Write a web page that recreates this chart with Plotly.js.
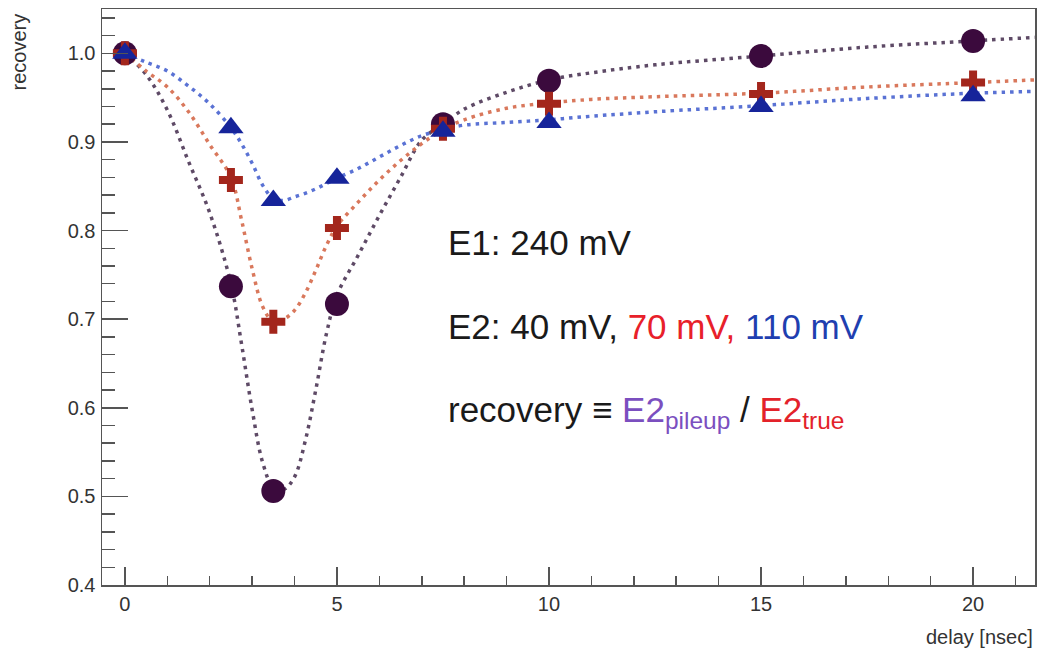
<!DOCTYPE html>
<html>
<head>
<meta charset="utf-8">
<script src="https://cdn.plot.ly/plotly-3.0.1.min.js"></script>
<style>
  html, body { margin: 0; padding: 0; background: #ffffff; }
  #chart { width: 1037px; height: 654px; }
</style>
</head>
<body>
<div id="chart"></div>
<script>
// Measured points
const delays = [0, 2.5, 3.5, 5, 7.5, 10, 15, 20];
const rec40  = [1.000, 0.737, 0.506, 0.717, 0.920, 0.969, 0.997, 1.014];
const rec70  = [1.000, 0.857, 0.697, 0.803, 0.915, 0.943, 0.954, 0.967];
const rec110 = [1.000, 0.916, 0.834, 0.859, 0.912, 0.922, 0.940, 0.952];

// Fitted (dotted) curves
const curveX   = [0, 0.5, 1, 1.5, 2, 2.5, 2.75, 3, 3.25, 3.5, 3.75, 4, 4.25, 4.5, 4.75, 5, 5.5, 6, 6.5, 7, 7.5, 8, 9, 10, 11, 12.5, 15, 17.5, 20, 21.46];
const curve40  = [1.000, 0.976, 0.936, 0.878, 0.820, 0.740, 0.672, 0.598, 0.538, 0.510, 0.508, 0.522, 0.562, 0.620, 0.683, 0.727, 0.772, 0.817, 0.860, 0.902, 0.920, 0.937, 0.956, 0.970, 0.978, 0.987, 0.997, 1.007, 1.014, 1.018];
const curve70  = [1.000, 0.980, 0.962, 0.934, 0.897, 0.860, 0.812, 0.757, 0.714, 0.697, 0.700, 0.710, 0.729, 0.755, 0.783, 0.805, 0.832, 0.857, 0.879, 0.898, 0.914, 0.925, 0.938, 0.944, 0.948, 0.951, 0.955, 0.962, 0.967, 0.970];
const curve110 = [1.000, 0.990, 0.980, 0.963, 0.943, 0.916, 0.898, 0.876, 0.851, 0.836, 0.834, 0.838, 0.842, 0.847, 0.853, 0.859, 0.870, 0.883, 0.896, 0.907, 0.914, 0.919, 0.922, 0.925, 0.929, 0.934, 0.941, 0.949, 0.955, 0.957];

const xTickVals = [0, 5, 10, 15, 20];
const yTickVals = [0.4, 0.5, 0.6, 0.7, 0.8, 0.9, 1.0];

const FONT = "Liberation Sans, Arial, Helvetica, sans-serif";
const AX = '#555555';
const TXT = '#333333';

const traces = [
  { x: curveX, y: curve40, mode: 'lines', line: { color: '#5e4a66', width: 3.5, dash: '3.5px,5px', shape: 'spline', smoothing: 1 }, hoverinfo: 'skip' },
  { x: curveX, y: curve70, mode: 'lines', line: { color: '#d9785c', width: 3.5, dash: '3.5px,5px', shape: 'spline', smoothing: 1 }, hoverinfo: 'skip' },
  { x: curveX, y: curve110, mode: 'lines', line: { color: '#5a72d4', width: 3.5, dash: '3.5px,5px', shape: 'spline', smoothing: 1 }, hoverinfo: 'skip' },
  { x: delays, y: rec40, mode: 'markers', marker: { symbol: 'circle', size: 24, color: '#3b0a3d', line: { width: 0 } } },
  { x: delays, y: rec70, mode: 'markers', marker: { symbol: 'cross', size: 20, color: '#a3261c', line: { width: 0 } } },
  { x: delays, y: rec110, mode: 'markers', marker: { symbol: 'triangle-up', size: 22, color: '#16249a', line: { width: 0 } } }
];

const layout = {
  width: 1037, height: 654,
  margin: { l: 102, r: 2, t: 9, b: 69 },
  paper_bgcolor: '#ffffff', plot_bgcolor: '#ffffff',
  showlegend: false,
  font: { family: FONT, color: TXT, size: 20 },
  xaxis: {
    range: [-0.54, 21.46], tickvals: xTickVals, ticktext: xTickVals.map(String),
    ticks: 'inside', ticklen: 18, tickwidth: 1.5, tickcolor: AX,
    showline: true, mirror: true, linecolor: AX, linewidth: 1.5,
    showgrid: false, zeroline: false,
    tickfont: { family: FONT, size: 20, color: TXT },
    minor: { dtick: 1, tick0: 0, ticks: 'inside', ticklen: 9, tickwidth: 1.5, tickcolor: AX, showgrid: false }
  },
  yaxis: {
    range: [0.4, 1.05], tickvals: yTickVals, ticktext: yTickVals.map(v => v.toFixed(1)),
    ticks: 'inside', ticklen: 26, tickwidth: 1.5, tickcolor: AX,
    showline: true, mirror: true, linecolor: AX, linewidth: 1.5,
    showgrid: false, zeroline: false, ticklabelstandoff: 1,
    tickfont: { family: FONT, size: 20, color: TXT },
    minor: { dtick: 0.02, tick0: 0.4, ticks: 'inside', ticklen: 13, tickwidth: 1.5, tickcolor: AX, showgrid: false }
  },
  annotations: [
    { xref: 'paper', yref: 'paper', x: 0.369, y: 0.594, xanchor: 'left', yanchor: 'middle', showarrow: false,
      text: 'E1: 240 mV', font: { family: FONT, size: 35, color: '#1a1a1a' } },
    { xref: 'paper', yref: 'paper', x: 0.369, y: 0.448, xanchor: 'left', yanchor: 'middle', showarrow: false,
      text: 'E2: 40 mV, <span style="color:#e8202a">70 mV,</span> <span style="color:#1f3fb0">110 mV</span>',
      font: { family: FONT, size: 35, color: '#1a1a1a' } },
    { xref: 'paper', yref: 'paper', x: 0.369, y: 0.300, xanchor: 'left', yanchor: 'middle', showarrow: false,
      text: 'recovery ≡ <span style="color:#7b4fbf">E2<sub>pileup</sub></span> / <span style="color:#e3222a">E2<sub>true</sub></span>',
      font: { family: FONT, size: 35, color: '#1a1a1a' } },
    { xref: 'paper', yref: 'paper', x: (18 - 102) / 933, y: (585 - 12) / 576, xanchor: 'center', yanchor: 'top', showarrow: false,
      textangle: -90, text: 'recovery', font: { family: FONT, size: 20, color: TXT } },
    { xref: 'paper', yref: 'paper', x: 1.0, y: (585 - 637) / 576, xanchor: 'right', yanchor: 'middle', showarrow: false,
      text: 'delay [nsec]', font: { family: FONT, size: 20, color: TXT } }
  ]
};

Plotly.newPlot('chart', traces, layout, { displayModeBar: false, staticPlot: true });
</script>
</body>
</html>
